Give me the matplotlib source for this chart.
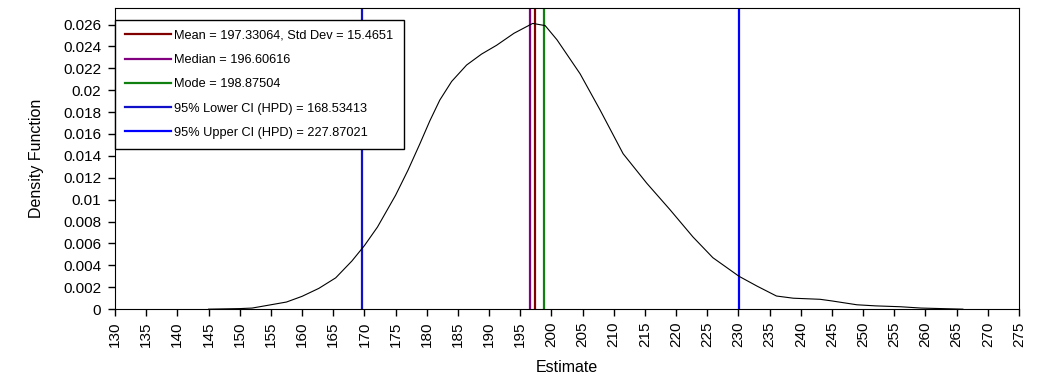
import numpy as np
import matplotlib.pyplot as plt

plt.rcParams['font.family'] = ['Liberation Sans', 'DejaVu Sans']
plt.rcParams['font.size'] = 11

# density curve
est = [145, 150, 152, 155, 157.5, 160, 162.7, 165.4, 168, 170, 172.1, 175, 177,
       178.9, 180.5, 182.1, 184, 186.4, 188.8, 191.2, 194, 197, 199, 200.9, 204.6,
       207.8, 211.5, 215.3, 219, 222.7, 225.9, 230.1, 233, 236.1, 238.8, 243.1,
       245, 249, 252, 256, 259.3, 266]
dens = [0.0, 0.00005, 0.0001, 0.0004, 0.00065, 0.00117, 0.0019, 0.00286, 0.0044,
        0.0058, 0.0075, 0.0104, 0.0127, 0.0151, 0.0172, 0.0191, 0.0208, 0.0223,
        0.0233, 0.0241, 0.0252, 0.0261, 0.0259, 0.0246, 0.0215, 0.0182, 0.0142,
        0.0115, 0.0091, 0.0066, 0.0047, 0.0030, 0.0021, 0.0012, 0.0010, 0.0009,
        0.00075, 0.0004, 0.0003, 0.00022, 0.0001, 0.0]

# vertical markers (x where drawn) and legend labels
mark_x = [197.33, 196.61, 198.88, 169.6, 230.1]
mark_labels = ['Mean = 197.33064, Std Dev = 15.4651',
               'Median = 196.60616',
               'Mode = 198.87504',
               '95% Lower CI (HPD) = 168.53413',
               '95% Upper CI (HPD) = 227.87021']
mark_colors = ['#800000', '#800080', '#108010', '#1010c8', '#0000ff']

xticks = np.arange(130, 276, 5)
yticks = np.arange(0, 0.0261, 0.002)
ytick_labels = ['0'] + ['{:g}'.format(round(v, 3)) for v in yticks[1:]]

fig = plt.figure(figsize=(10.59, 3.85), dpi=100)
ax = fig.add_axes([0.1086, 0.197, 0.8536, 0.782])

for x, lab, c in zip(mark_x, mark_labels, mark_colors):
    ax.axvline(x, color=c, lw=1.6, label=lab)
ax.plot(est, dens, color='black', lw=0.8)

ax.set_xlim(130, 275)
ax.set_ylim(0, 0.0275)
ax.set_xticks(xticks)
ax.set_xticklabels([str(t) for t in xticks], rotation=90)
ax.set_yticks(yticks)
ax.set_yticklabels(ytick_labels)
ax.tick_params(direction='out', length=5, width=1, labelsize=11)
ax.tick_params(axis='x', pad=4)
ax.tick_params(axis='y', pad=5)
ax.set_xlabel('Estimate', fontsize=11.5, labelpad=9)
ax.set_ylabel('Density Function', fontsize=11.5, labelpad=14)

leg = ax.legend(loc='upper left', bbox_to_anchor=(0.0, 0.962), fontsize=9.2,
                frameon=True, fancybox=False, framealpha=1, edgecolor='black',
                handlelength=3.6, handletextpad=0.25, labelspacing=0.96,
                borderpad=0.8, borderaxespad=0)
leg.get_frame().set_linewidth(1)

fig.savefig('out.png', dpi=100)
